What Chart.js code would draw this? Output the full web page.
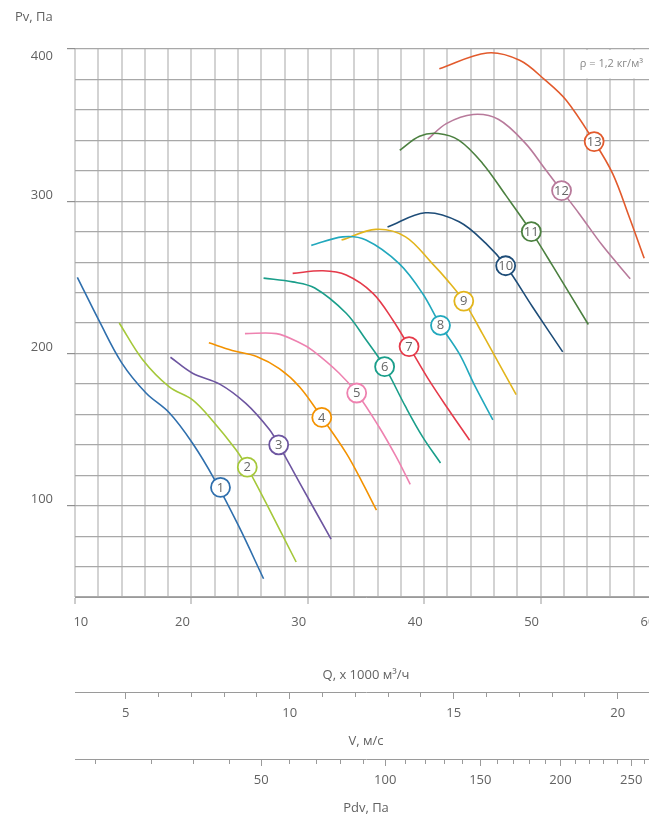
<!DOCTYPE html>
<html>
<head>
<meta charset="utf-8">
<script src="https://cdn.jsdelivr.net/npm/chart.js@4.4.1/dist/chart.umd.min.js"></script>
<style>
  html, body { margin: 0; padding: 0; background: #fff; overflow: hidden; width: 649px; height: 818px; }
  #wrap { width: 680px; height: 818px; }
</style>
</head>
<body>
<div id="wrap"><canvas id="c" width="680" height="818"></canvas></div>
<script>
// ---------- DATA (Q in 1000 m3/h, Pv in Pa) ----------
const CURVE_NAMES = ['1','2','3','4','5','6','7','8','9','10','11','12','13'];

const CURVE_01 = [[10.2,250],[12.1,221],[14.0,194],[16.1,174],[18.1,161],[20.1,141],[22.0,117],[24.1,86],[26.2,52]];
const CURVE_02 = [[13.8,220],[15.8,196],[18.1,178],[20.1,169.5],[21.8,156],[23.8,137],[24.8,125],[26.4,102],[29.0,63]];
const CURVE_03 = [[18.2,197.5],[20.1,187],[22.4,180],[24.7,167],[26.7,150],[27.5,140],[29.3,115],[32.0,78]];
const CURVE_04 = [[21.5,207],[23.5,202],[25.6,198],[27.55,190],[29.3,178],[31.2,158],[33.3,134.5],[34.7,115],[35.9,97]];
const CURVE_05 = [[24.6,213],[27.3,213],[29.3,207],[30.4,202],[32.7,187],[34.2,174],[36.1,152],[37.6,132],[38.8,114]];
const CURVE_06 = [[26.2,249.5],[28.7,247],[30.6,243],[33.3,226.4],[35.0,209],[36.6,191.3],[38.4,165],[39.85,145.4],[41.4,128]];
const CURVE_07 = [[28.7,252.6],[31.3,254.3],[33.3,251.5],[35.6,239.5],[37.3,222],[38.7,204.5],[40.4,182.6],[42.1,163],[43.9,143]];
const CURVE_08 = [[30.3,271],[33.0,276.6],[35.0,274.5],[37.85,259],[39.85,239.5],[41.4,218.5],[43.0,200],[44.4,178],[45.9,156.4]];
const CURVE_09 = [[32.9,274.5],[35.85,281.5],[38.4,276.6],[40.7,259],[42.0,248],[43.4,234.4],[45.0,213],[46.4,193.6],[47.9,173]];
const CURVE_10 = [[36.85,283],[40.1,292.4],[43.0,286.5],[45.3,272.3],[47.0,257.6],[49.3,230.7],[51.9,201]];
const CURVE_11 = [[37.9,333.5],[39.6,342.7],[41.2,344.5],[43.0,340],[45.0,325],[47.0,304],[49.2,280],[51.0,258],[54.1,219]];
const CURVE_12 = [[40.3,340.6],[41.9,351],[44.2,357],[46.4,353.7],[48.7,338],[50.4,321],[51.8,307],[53.3,292],[55.3,271],[57.7,249]];
const CURVE_13 = [[41.3,387],[45.4,397.4],[48.2,392.6],[50.4,379.5],[52.2,366.3],[54.6,339.2],[56.2,318],[57.6,290],[58.9,262.5]];

// curve number marker positions
const LABEL_Q = [22.5, 24.8, 27.5, 31.2, 34.2, 36.6, 38.7, 41.4, 43.4, 47.0, 49.2, 51.8, 54.6];
const LABEL_P = [112, 125.3, 140, 158, 174, 191.3, 204.5, 218.5, 234.4, 257.6, 280, 307, 339.2];

// axes ticks
const Q_TICKS = [10,12,14,16,18,20,22,24,26,28,30,32,34,36,38,40,42,44,46,48,50,52,54,56,58,60];
const P_TICKS = [40,60,80,100,120,140,160,180,200,220,240,260,280,300,320,340,360,380,400];
const V_TICKS = [5,6,7,8,9,10,11,12,13,14,15,16,17,18,19,20,21];
const PDV_TICKS = [10,20,30,40,50,60,70,80,90,100,110,120,130,140,150,160,170,180,190,200,210,220,230,240,250,260];

// ---------- STYLE ----------
const COLORS = ['#2f6fad','#a5c83a','#6d55a0','#f39200','#ee82b0','#1a9e8a','#e53a4a','#22a8bd','#e2b51c','#1e4d78','#4c8040','#b87a9b','#e25a2c'];
const FONT = "'Open Sans', 'Noto Sans', sans-serif";
const TXT = '#626262';
const AXIS = '#9a9a9a';
const RHO_HALF = 0.6;           // Pdv = rho*V^2/2, rho = 1.2
const V_MIN = 3.45, V_MAX = 21.2;
const FS = '\u2007';

const curves = [CURVE_01,CURVE_02,CURVE_03,CURVE_04,CURVE_05,CURVE_06,CURVE_07,CURVE_08,CURVE_09,CURVE_10,CURVE_11,CURVE_12,CURVE_13];

const datasets = [{
  label: 'markers',
  data: LABEL_Q.map((q, i) => ({ x: q, y: LABEL_P[i] })),
  showLine: false,
  pointRadius: 9.5,
  pointHoverRadius: 9.5,
  pointBackgroundColor: '#fff',
  pointBorderColor: COLORS,
  pointBorderWidth: 1.8,
  xAxisID: 'x', yAxisID: 'y',
  order: 0
}].concat(curves.map((c, i) => ({
  label: CURVE_NAMES[i],
  data: c.map(([x, y]) => ({ x, y })),
  borderColor: COLORS[i],
  borderWidth: 1.6,
  pointRadius: 0,
  fill: false,
  tension: 0.35,
  xAxisID: 'x', yAxisID: 'y',
  order: 1
})));

const numberPlugin = {
  id: 'curveNumbers',
  afterDatasetsDraw(chart) {
    const meta = chart.getDatasetMeta(0);
    const ctx = chart.ctx;
    ctx.save();
    ctx.font = '13px ' + FONT;
    ctx.fillStyle = '#666';
    ctx.textAlign = 'center';
    ctx.textBaseline = 'middle';
    meta.data.forEach((el, i) => ctx.fillText(CURVE_NAMES[i], el.x, el.y + 0.5));
    ctx.restore();
  }
};

const rhoPlugin = {
  id: 'rhoNote',
  beforeDatasetsDraw(chart) {
    const { ctx, chartArea } = chart;
    const sx = chart.scales.x, sy = chart.scales.y;
    const x0 = sx.getPixelForValue(52) + 1.5;
    const y0 = sy.getPixelForValue(400) + 1;
    const y1 = sy.getPixelForValue(380) - 1;
    ctx.save();
    ctx.fillStyle = '#fff';
    ctx.fillRect(x0, y0, chartArea.right - x0 + 2, y1 - y0);
    ctx.font = '11px ' + FONT;
    ctx.fillStyle = '#888';
    ctx.textAlign = 'right';
    ctx.textBaseline = 'middle';
    ctx.fillText('ρ = 1,2 кг/м³', sx.getPixelForValue(58.8), (y0 + y1) / 2);
    ctx.restore();
  }
};

const tickFont = { family: FONT, size: 13 };

new Chart(document.getElementById('c'), {
  type: 'line',
  data: { datasets },
  plugins: [rhoPlugin, numberPlugin],
  options: {
    responsive: false,
    devicePixelRatio: 1,
    animation: false,
    events: [],
    layout: { padding: { left: 15, right: 23, top: 0, bottom: 0 } },
    plugins: {
      legend: { display: false },
      tooltip: { enabled: false },
      title: {
        display: true, text: 'Pv, Па', align: 'start', color: TXT,
        font: { family: FONT, size: 13, weight: 'normal' },
        padding: { top: 9.2, bottom: 24.2 }
      }
    },
    scales: {
      x: {
        type: 'linear', position: 'bottom', weight: 0, min: 10, max: 60,
        afterBuildTicks(s) { s.ticks = Q_TICKS.map(v => ({ value: v })); },
        ticks: {
          autoSkip: false, maxRotation: 0, minRotation: 0, labelOffset: -9, padding: 10.9,
          color: TXT, font: tickFont,
          callback: (v) => (v === 10 ? FS + FS + FS + FS + '10' : (v % 10 === 0 ? String(v) : ''))
        },
        grid: {
          color: '#d3d3d3', lineWidth: 2, tickLength: 7, tickWidth: 1,
          tickColor: (c) => (c.tick && c.tick.value % 10 === 0 ? AXIS : 'rgba(0,0,0,0)')
        },
        border: { display: true, color: AXIS, width: 1 },
        title: { display: true, text: 'Q, x 1000 м³/ч', color: TXT, font: tickFont, padding: { top: 0, bottom: 9.4 } },
        afterFit(s) { s.height = 95; }
      },
      v: {
        type: 'linear', position: 'bottom', weight: 1, min: V_MIN, max: V_MAX,
        afterBuildTicks(s) { s.ticks = V_TICKS.map(v => ({ value: v })); },
        ticks: {
          autoSkip: false, maxRotation: 0, minRotation: 0, padding: 6.4,
          color: TXT, font: tickFont,
          callback: (v) => (v % 5 === 0 ? String(v) : '')
        },
        grid: {
          drawOnChartArea: false, tickLength: 7, tickWidth: 1, tickColor: AXIS,
          tickBorderDash: (c) => (c.tick && c.tick.value % 5 === 0 ? [] : [4, 20])
        },
        border: { display: true, color: AXIS, width: 1 },
        title: { display: true, text: 'V, м/с', color: TXT, font: tickFont, padding: { top: 0, bottom: 10.4 } },
        afterFit(s) { s.height = 67; }
      },
      p: {
        type: 'linear', position: 'bottom', weight: 2, min: V_MIN, max: V_MAX,
        afterBuildTicks(s) { s.ticks = PDV_TICKS.map(p => ({ value: Math.sqrt(p / RHO_HALF) })); },
        ticks: {
          autoSkip: false, maxRotation: 0, minRotation: 0, padding: 6.9,
          color: TXT, font: tickFont,
          callback: (v, i) => (PDV_TICKS[i] % 50 === 0 ? String(PDV_TICKS[i]) : '')
        },
        grid: {
          drawOnChartArea: false, tickLength: 7, tickWidth: 1, tickColor: AXIS,
          tickBorderDash: (c) => (PDV_TICKS[c.index] % 50 === 0 ? [] : [4, 20])
        },
        border: { display: true, color: AXIS, width: 1 },
        title: { display: true, text: 'Pdv, Па', color: TXT, font: tickFont, padding: { top: 0, bottom: 2.4 } },
        afterFit(s) { s.height = 59; }
      },
      y: {
        type: 'linear', position: 'left', min: 40, max: 400,
        afterBuildTicks(s) { s.ticks = P_TICKS.map(v => ({ value: v })); },
        ticks: {
          autoSkip: false, padding: 14, labelOffset: -6, color: TXT,
          font: (c) => ({ family: FONT, size: 13, lineHeight: (c.tick && c.tick.value === 400) ? 2 : 1.2 }),
          callback: (v) => (v === 400 ? ['', '400'] : (v % 100 === 0 ? String(v) : ''))
        },
        grid: {
          color: '#a8a8a8', lineWidth: 1.2, tickLength: 8, tickWidth: 1.2,
          tickColor: (c) => (c.tick && c.tick.value % 100 === 0 ? '#8f8f8f' : 'rgba(0,0,0,0)')
        },
        border: { display: false },
        afterFit(s) { s.width = 60; }
      }
    }
  }
});
</script>
</body>
</html>
